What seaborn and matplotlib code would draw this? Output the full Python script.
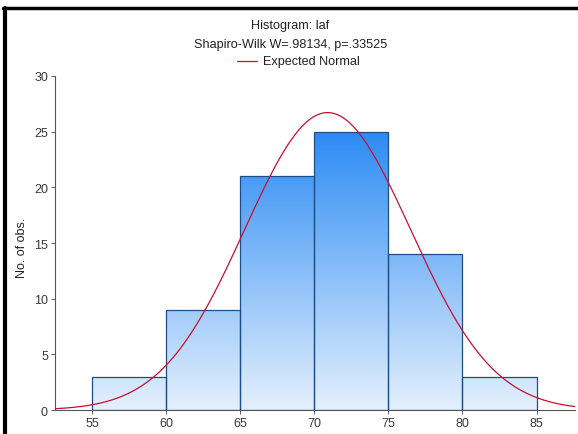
import numpy as np
import pandas as pd
import matplotlib
matplotlib.use("Agg")
import matplotlib.pyplot as plt
from matplotlib.colors import LinearSegmentedColormap
from matplotlib.lines import Line2D
import seaborn as sns

# ---- data ----
bin_edges = [55, 60, 65, 70, 75, 80, 85]
bin_counts = [3, 9, 21, 25, 14, 3]
normal_mean = 70.9
normal_sd = 5.6
x_ticks = [55, 60, 65, 70, 75, 80, 85]
y_ticks = [0, 5, 10, 15, 20, 25, 30]
title_lines = ["Histogram: laf", "Shapiro-Wilk W=.98134, p=.33525"]
legend_label = "Expected Normal"
y_label = "No. of obs."

sns.set_theme(style="white")
plt.rcParams['font.family'] = ['Liberation Sans', 'DejaVu Sans']

fig = plt.figure(figsize=(5.78, 4.35), dpi=100)
ax = fig.add_axes([0.095, 0.055, 0.9, 0.768])

centers = [(a + b) / 2 for a, b in zip(bin_edges[:-1], bin_edges[1:])]
df = pd.DataFrame({"x": centers, "n": bin_counts})
sns.histplot(data=df, x="x", weights="n", bins=bin_edges, ax=ax,
             facecolor="none", edgecolor="#1d4f86", linewidth=0.9, alpha=1)

xlim = (52.5, 87.6)
ylim = (0, 30)
ax.set_xlim(*xlim)
ax.set_ylim(*ylim)

# gradient fill clipped to bars
cmap = LinearSegmentedColormap.from_list("g", ["#e4f0fd", "#2c8bf4"])
grad = np.linspace(0, 1, 256).reshape(-1, 1)
for p in ax.patches:
    im = ax.imshow(grad, extent=[xlim[0], xlim[1], 0, 25], origin="lower",
                   cmap=cmap, aspect="auto", zorder=1, interpolation="bilinear")
    im.set_clip_path(p)
    p.set_zorder(2)
ax.set_xlim(*xlim)
ax.set_ylim(*ylim)

# expected normal curve
total = sum(bin_counts)
width = bin_edges[1] - bin_edges[0]
xs = np.linspace(xlim[0], xlim[1], 400)
ys = total * width * np.exp(-0.5 * ((xs - normal_mean) / normal_sd) ** 2) / (normal_sd * np.sqrt(2 * np.pi))
sns.lineplot(x=xs, y=ys, ax=ax, color="#c8102e", linewidth=0.9, zorder=3)

ax.set_xticks(x_ticks)
ax.set_yticks(y_ticks)
ax.tick_params(axis="both", labelsize=9, colors="#444444", length=3, width=0.6,
               direction="out", bottom=True, left=True, pad=2)
for lab in ax.get_xticklabels() + ax.get_yticklabels():
    lab.set_color("#3a3a3a")
ax.set_xlabel("")
ax.set_ylabel(y_label, fontsize=9, color="#222222")
ax.yaxis.set_label_coords(-0.052, 0.49)

for s in ["top", "right"]:
    ax.spines[s].set_visible(False)
for s in ["left", "bottom"]:
    ax.spines[s].set_color("#555555")
    ax.spines[s].set_linewidth(0.8)

# titles and legend
fig.text(0.502, 1 - 26 / 435, title_lines[0], ha="center", va="center", fontsize=9.1, color="#222222")
fig.text(0.502, 1 - 45 / 435, title_lines[1], ha="center", va="center", fontsize=9.1, color="#222222")
ly = 1 - 62 / 435
fig.add_artist(Line2D([237 / 578, 257 / 578], [ly, ly], color="#c8102e", linewidth=0.9))
fig.text(263 / 578, ly, legend_label, ha="left", va="center", fontsize=9.1, color="#222222")

# figure frame (top and left)
fig.add_artist(Line2D([3 / 578, 1.0], [1 - 8.5 / 435, 1 - 8.5 / 435], color="black", linewidth=2.5))
fig.add_artist(Line2D([5 / 578, 5 / 578], [0, 1 - 8.5 / 435], color="black", linewidth=3))

fig.savefig("out.png", dpi=100)
